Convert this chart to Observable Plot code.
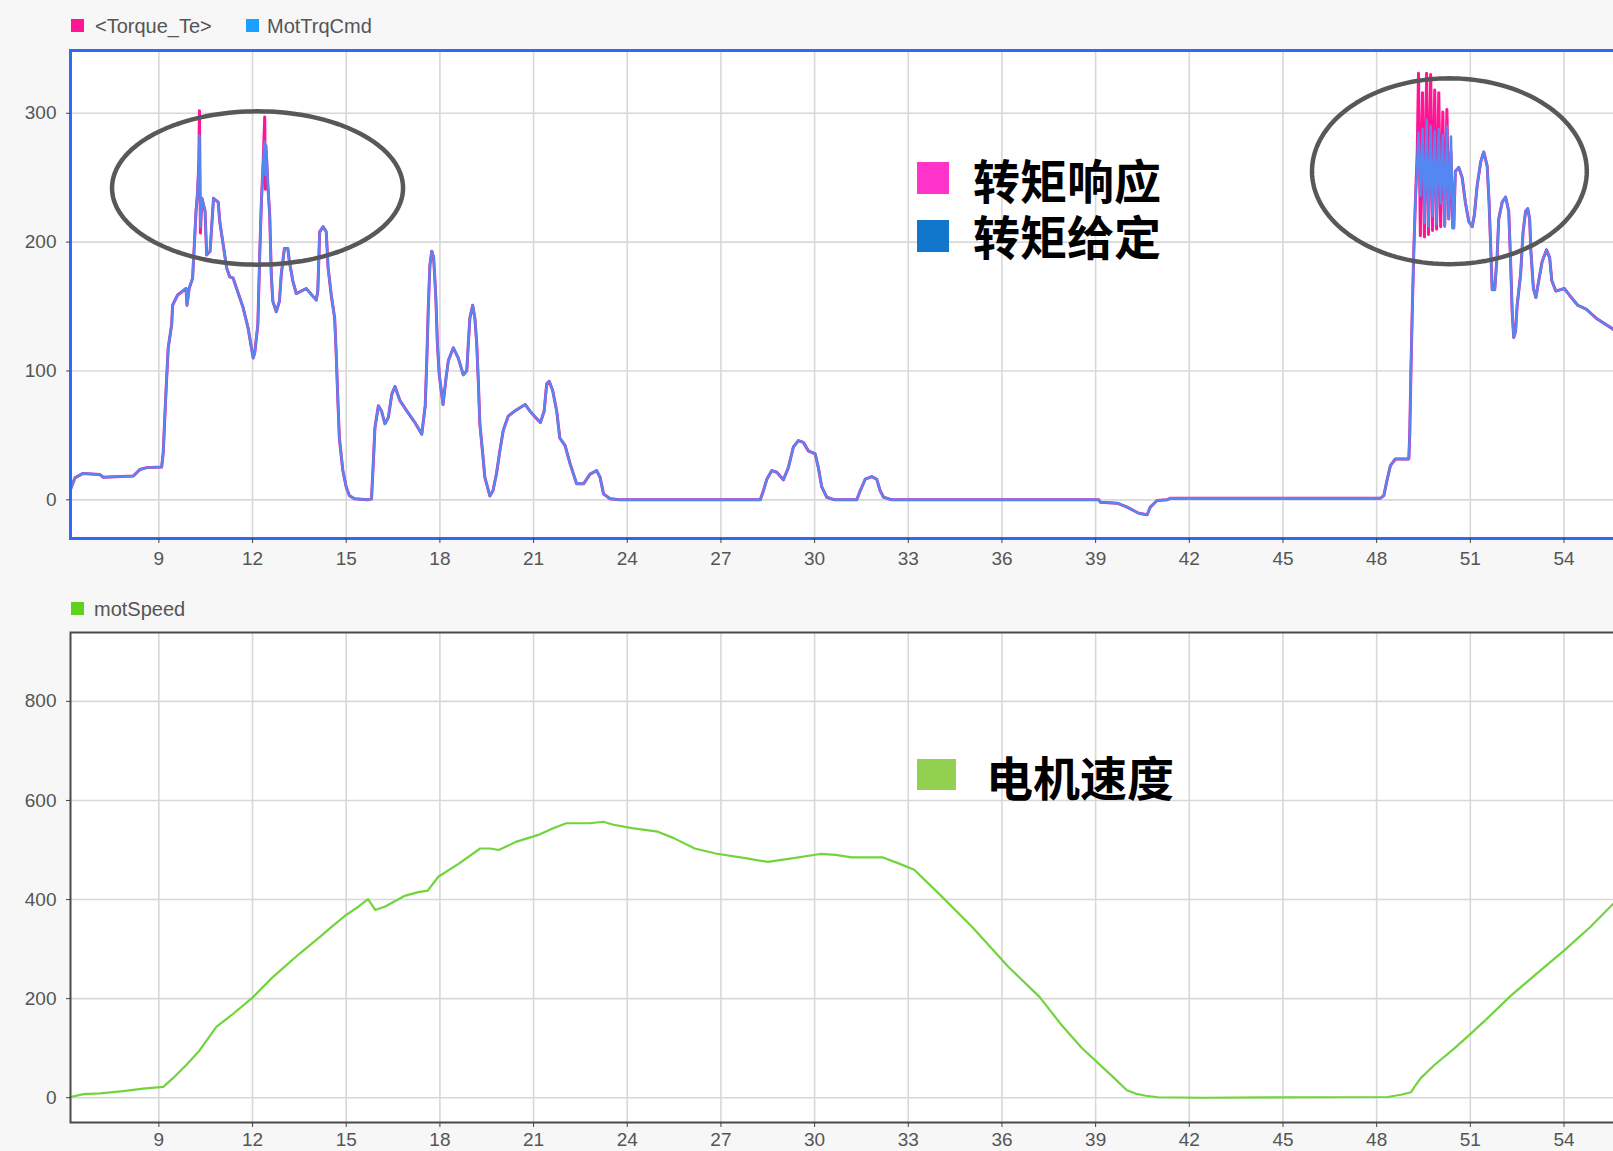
<!DOCTYPE html>
<html>
<head>
<meta charset="utf-8">
<script src="https://cdn.jsdelivr.net/npm/d3@7"></script>
<script src="https://cdn.jsdelivr.net/npm/@observablehq/plot@0.6"></script>
<style>
  html, body { margin: 0; padding: 0; background: #f7f7f7; overflow: hidden; }
  #root { position: relative; width: 1613px; height: 1151px; overflow: hidden; background: #f7f7f7; }
  .abs { position: absolute; }
  .leg { position: absolute; font-family: "Liberation Sans", Arial, sans-serif; font-size: 20px; color: #555; white-space: nowrap; line-height: 1; }
  .sw { position: absolute; }
  .cn { position: absolute; font-family: "Noto Sans CJK SC", sans-serif; font-weight: 700; font-size: 47px; color: #000; white-space: nowrap; }
</style>
</head>
<body>
<div id="root">
  <div id="topPlot" class="abs" style="left:0;top:0"></div>
  <div id="bottomPlot" class="abs" style="left:0;top:588px"></div>
</div>
<script>
// ---------------- DATA ----------------
const xTicks = [9, 12, 15, 18, 21, 24, 27, 30, 33, 36, 39, 42, 45, 48, 51, 54];
const torqueYTicks = [0, 100, 200, 300];
const speedYTicks = [0, 200, 400, 600, 800];

const torqueSeriesNames = ["<Torque_Te>", "MotTrqCmd"];
const speedSeriesNames = ["motSpeed"];
const annotationTorqueLabels = ["转矩响应", "转矩给定"];
const annotationSpeedLabel = "电机速度";

// time (s) for torque traces
const torqueTime = [
  6.17, 6.31, 6.57, 7.11, 7.22, 8.18, 8.39, 8.61, 9.09, 9.14, 9.19, 9.24, 9.30, 9.41, 9.44, 9.60, 9.87, 9.90, 9.97, 10.08,
  10.14, 10.19, 10.24, 10.28, 10.30, 10.33, 10.38, 10.48, 10.53, 10.64, 10.75, 10.90, 10.95, 11.06, 11.17, 11.27, 11.38, 11.49, 11.70, 11.86,
  12.02, 12.07, 12.17, 12.23, 12.28, 12.34, 12.39, 12.41, 12.44, 12.49, 12.55, 12.60, 12.65, 12.76, 12.86, 12.92, 13.02, 13.13, 13.18, 13.29,
  13.40, 13.72, 14.04, 14.09, 14.15, 14.26, 14.36, 14.42, 14.52, 14.63, 14.68, 14.73, 14.78, 14.89, 15.00, 15.10, 15.26, 15.69, 15.81, 15.87,
  15.92, 16.03, 16.13, 16.24, 16.35, 16.46, 16.56, 16.72, 16.94, 17.20, 17.42, 17.53, 17.58, 17.63, 17.68, 17.74, 17.80, 17.87, 17.92, 17.98,
  18.10, 18.20, 18.27, 18.43, 18.59, 18.75, 18.86, 18.91, 18.96, 19.05, 19.12, 19.18, 19.23, 19.28, 19.37, 19.44, 19.60, 19.70, 19.81, 19.92,
  20.03, 20.19, 20.40, 20.73, 20.88, 21.10, 21.22, 21.34, 21.42, 21.50, 21.61, 21.74, 21.84, 22.01, 22.17, 22.38, 22.60, 22.81, 23.02, 23.13,
  23.24, 23.45, 23.77, 28.26, 28.36, 28.47, 28.63, 28.79, 29.00, 29.16, 29.32, 29.48, 29.64, 29.80, 30.02, 30.12, 30.23, 30.39, 30.65, 31.35,
  31.46, 31.62, 31.83, 31.99, 32.10, 32.21, 32.48, 39.10, 39.15, 39.69, 40.01, 40.38, 40.65, 40.75, 40.97, 41.29, 41.40, 48.12, 48.23, 48.33,
  48.44, 48.60, 49.03, 49.06, 49.10, 49.14, 49.19, 49.24, 49.30, 49.34, 49.40, 49.47, 49.53, 49.60, 49.66, 49.73, 49.79, 49.86, 49.92, 49.99,
  50.05, 50.12, 50.18, 50.25, 50.31, 50.38, 50.44, 50.47, 50.52, 50.63, 50.74, 50.84, 50.95, 51.06, 51.13, 51.22, 51.33, 51.43, 51.54, 51.60,
  51.65, 51.70, 51.78, 51.86, 51.91, 52.02, 52.13, 52.23, 52.29, 52.34, 52.39, 52.45, 52.50, 52.61, 52.69, 52.77, 52.84, 52.90, 52.94, 53.02,
  53.10, 53.19, 53.30, 53.44, 53.54, 53.61, 53.74, 54.01, 54.17, 54.44, 54.71, 55.03, 55.60
];

// MotTrqCmd (torque command)
const motTrqCmd = [
  8, 17, 20.5, 19.6, 17.5, 18.5, 23.5, 25, 25.5, 37, 64, 90, 118, 136, 151, 159, 164, 151, 164, 172,
  200, 224, 239, 262, 283, 212, 234, 224, 190, 193, 234, 231, 216, 198, 180, 173, 172, 164, 149, 133,
  110, 114, 136, 190, 229, 262, 278, 252, 275, 244, 221, 175, 154, 146, 154, 175, 195, 195, 185, 170,
  160, 164, 155, 162, 208, 212, 208, 180, 159, 141, 113, 79, 48, 23, 10, 3.3, 0.8, 0, 0.8, 30,
  56, 73, 69, 59, 64, 82, 88, 77, 69, 60, 51, 73, 108, 150, 182, 193, 188, 157, 121, 97,
  74, 95, 108, 118, 110, 97, 100, 121, 141, 151, 141, 121, 92, 59, 36, 17.5, 3, 7, 20, 38,
  54, 65, 69, 74, 69, 63, 60, 69, 90, 92, 85, 69, 48, 42, 28, 12.4, 12.4, 20, 22.7, 17.5,
  4.6, 0.8, 0, 0, 7, 16, 22.7, 21.4, 15.5, 25, 41, 46, 44.6, 38, 35.6, 25, 10, 2, 0, 0,
  7, 16, 18, 16, 7, 2, 0, 0, -1.8, -2.6, -5.7, -10.4, -11.6, -5.7, -0.5, 0, 1.3, 1.3, 3.3, 15,
  26.5, 31.7, 31.7, 51, 102.5, 146, 193, 231, 262, 285, 236, 288, 215, 295, 212, 290, 220, 286, 214, 288,
  230, 283, 212, 290, 218, 282, 211, 211, 255, 258, 250, 231, 216, 212, 221, 244, 262, 270, 259, 231,
  198, 163, 163, 190, 218, 231, 235, 224, 185, 146, 126, 131, 151, 175, 208, 224, 226, 218, 193, 164,
  157, 170, 185, 194, 188, 170, 162, 164, 159, 151, 148, 141, 132
];

// <Torque_Te> (torque response)
const torqueTe = [
  8, 17, 20.5, 19.6, 17.5, 18.5, 23.5, 25, 25.5, 37, 64, 90, 118, 136, 151, 159, 164, 151, 164, 172,
  200, 224, 239, 262, 302, 207, 234, 224, 190, 193, 234, 231, 216, 198, 180, 173, 172, 164, 149, 133,
  110, 114, 136, 190, 229, 262, 297, 241, 270, 244, 221, 175, 154, 146, 154, 175, 195, 195, 185, 170,
  160, 164, 155, 162, 208, 212, 208, 180, 159, 141, 113, 79, 48, 23, 10, 3.3, 0.8, 0, 0.8, 30,
  56, 73, 69, 59, 64, 82, 88, 77, 69, 60, 51, 73, 108, 150, 182, 193, 188, 157, 121, 97,
  74, 95, 108, 118, 110, 97, 100, 121, 141, 151, 141, 121, 92, 59, 36, 17.5, 3, 7, 20, 38,
  54, 65, 69, 74, 69, 63, 60, 69, 90, 92, 85, 69, 48, 42, 28, 12.4, 12.4, 20, 22.7, 17.5,
  4.6, 0.8, 0, 0, 7, 16, 22.7, 21.4, 15.5, 25, 41, 46, 44.6, 38, 35.6, 25, 10, 2, 0, 0,
  7, 16, 18, 16, 7, 2, 0, 0, -1.8, -2.6, -5.7, -10.4, -11.6, -5.7, -0.5, 0, 1.3, 1.3, 3.3, 15,
  26.5, 31.7, 31.7, 51, 102.5, 146, 193, 231, 270, 331, 205, 316, 204, 331, 206, 330, 209, 318, 210, 316,
  212, 301, 213, 303, 218, 270, 211, 211, 255, 258, 250, 231, 216, 212, 221, 244, 262, 270, 259, 231,
  198, 163, 163, 190, 218, 231, 235, 224, 185, 146, 126, 131, 151, 175, 208, 224, 226, 218, 193, 164,
  157, 170, 185, 194, 188, 170, 162, 164, 159, 151, 148, 141, 132
];

// motSpeed
const speedTime = [
  6.17, 6.59, 7.12, 7.86, 8.50, 9.14, 9.46, 9.88, 10.31, 10.84, 11.37, 12.00, 12.64, 13.49, 14.13, 14.55, 14.98, 15.40, 15.70, 15.93,
  16.25, 16.89, 17.31, 17.61, 17.95, 18.62, 19.29, 19.62, 19.88, 20.46, 21.13, 21.63, 22.05, 22.80, 23.23, 23.56, 24.15, 24.98, 25.49, 26.16,
  26.83, 27.83, 28.50, 29.17, 30.18, 30.68, 31.18, 32.19, 32.69, 33.19, 34.03, 35.04, 36.21, 37.21, 37.88, 38.55, 39.64, 40.00, 40.30, 40.60,
  41.00, 42.40, 48.35, 48.78, 49.10, 49.21, 49.42, 49.85, 50.48, 50.99, 51.44, 52.30, 53.04, 54.00, 54.85, 55.60
];
const motSpeed = [
  1.5, 7.4, 8.8, 13.2, 18.4, 22, 40, 66, 96, 143, 169, 202, 243, 290, 323, 346, 368, 386, 401, 379,
  386, 408, 415, 418, 446, 473, 503, 503, 500, 517, 530, 544, 554, 554, 557, 551, 544, 537, 524, 503,
  493, 483, 476, 482, 492, 490, 485, 485, 473, 460, 409, 345, 264, 203, 149, 101, 37, 15, 8, 4,
  1, 0, 1.5, 6, 11, 22, 40, 66, 99, 128, 154, 206, 246, 297, 345, 393
];

// highlight ellipses (center time, center torque, radius in s, radius in torque units)
const ellipseCenterT = [12.16, 50.33];
const ellipseCenterV = [242, 255];
const ellipseRadiusT = [4.66, 4.40];
const ellipseRadiusV = [59.5, 72.1];

// ---------------- CHART ----------------
const xDomain = [6.17, 56.45];
const font = "'Liberation Sans', Arial, sans-serif";
const torqueRows = torqueTime.map((t, i) => ({t, te: torqueTe[i], cmd: motTrqCmd[i]}));
const speedRows = speedTime.map((t, i) => ({t, v: motSpeed[i]}));

const ellipsePts = [];
ellipseCenterT.forEach((ct, j) => {
  for (let k = 0; k <= 160; k++) {
    const a = 2 * Math.PI * k / 160;
    ellipsePts.push({id: j, t: ct + ellipseRadiusT[j] * Math.cos(a), v: ellipseCenterV[j] + ellipseRadiusV[j] * Math.sin(a)});
  }
});

const svgStyle = {fontFamily: font, fontSize: "19px", color: "#555", background: "transparent", overflow: "visible", maxWidth: "none"};

const topPlot = Plot.plot({
  width: 1640, height: 588,
  marginLeft: 70, marginRight: 0, marginTop: 50, marginBottom: 50,
  style: svgStyle,
  x: {domain: xDomain, label: null},
  y: {domain: [-30, 348.7], label: null},
  marks: [
    Plot.frame({fill: "white", stroke: "none"}),
    Plot.gridX(xTicks, {stroke: "#d8d8d8", strokeOpacity: 1, strokeWidth: 1.6}),
    Plot.gridY(torqueYTicks, {stroke: "#d8d8d8", strokeOpacity: 1, strokeWidth: 1.6}),
    Plot.line(torqueRows, {x: "t", y: "te", stroke: "#ff1493", strokeWidth: 3}),
    Plot.line(torqueRows, {x: "t", y: "cmd", stroke: "#5587f3", strokeWidth: 2.5}),
    Plot.line(ellipsePts, {x: "t", y: "v", z: "id", stroke: "#585858", strokeWidth: 4.5}),
    Plot.frame({stroke: "#2f6af5", strokeWidth: 3}),
    Plot.axisX(xTicks, {tickSize: 5, tickPadding: 8, fontSize: 19, stroke: "#444", fill: "#555", label: null}),
    Plot.axisY(torqueYTicks, {tickSize: 4, tickPadding: 10, fontSize: 19, stroke: "#444", fill: "#555", label: null})
  ]
});
document.getElementById("topPlot").appendChild(topPlot);

const bottomPlot = Plot.plot({
  width: 1640, height: 562,
  marginLeft: 70, marginRight: 0, marginTop: 44, marginBottom: 28,
  style: svgStyle,
  x: {domain: xDomain, label: null},
  y: {domain: [-50, 939], label: null},
  marks: [
    Plot.frame({fill: "white", stroke: "none"}),
    Plot.gridX(xTicks, {stroke: "#d8d8d8", strokeOpacity: 1, strokeWidth: 1.6}),
    Plot.gridY(speedYTicks, {stroke: "#d8d8d8", strokeOpacity: 1, strokeWidth: 1.6}),
    Plot.line(speedRows, {x: "t", y: "v", stroke: "#72d43c", strokeWidth: 2.2}),
    Plot.frame({stroke: "#4a4a4a", strokeWidth: 2}),
    Plot.axisX(xTicks, {tickSize: 5, tickPadding: 5, fontSize: 19, stroke: "#444", fill: "#555", label: null}),
    Plot.axisY(speedYTicks, {tickSize: 4, tickPadding: 10, fontSize: 19, stroke: "#444", fill: "#555", label: null})
  ]
});
document.getElementById("bottomPlot").appendChild(bottomPlot);

// ---------------- LEGENDS & ANNOTATIONS ----------------
const root = document.getElementById("root");
function add(html) { root.insertAdjacentHTML("beforeend", html); }
const esc = s => s.replace(/&/g, "&amp;").replace(/</g, "&lt;").replace(/>/g, "&gt;");

// Scope-style legends
add(`<div class="sw" style="left:71px;top:19px;width:13px;height:13px;background:#ff1493"></div>`);
add(`<div class="leg" style="left:95px;top:16px">${esc(torqueSeriesNames[0])}</div>`);
add(`<div class="sw" style="left:246px;top:19px;width:13px;height:13px;background:#1aa0ff"></div>`);
add(`<div class="leg" style="left:267px;top:16px">${esc(torqueSeriesNames[1])}</div>`);
add(`<div class="sw" style="left:71px;top:602px;width:13px;height:13px;background:#5fd31b"></div>`);
add(`<div class="leg" style="left:94px;top:599px">${esc(speedSeriesNames[0])}</div>`);

// Chinese annotations
add(`<div class="sw" style="left:917px;top:162px;width:32px;height:32px;background:#ff33cc"></div>`);
add(`<div class="sw" style="left:917px;top:220px;width:32px;height:32px;background:#1177cc"></div>`);
add(`<div class="cn" style="left:973px;top:151px;line-height:56px">${annotationTorqueLabels[0]}<br>${annotationTorqueLabels[1]}</div>`);
add(`<div class="sw" style="left:917px;top:759px;width:39px;height:31px;background:#92d050"></div>`);
add(`<div class="cn" style="left:986px;top:752px;line-height:1">${annotationSpeedLabel}</div>`);
</script>
</body>
</html>
